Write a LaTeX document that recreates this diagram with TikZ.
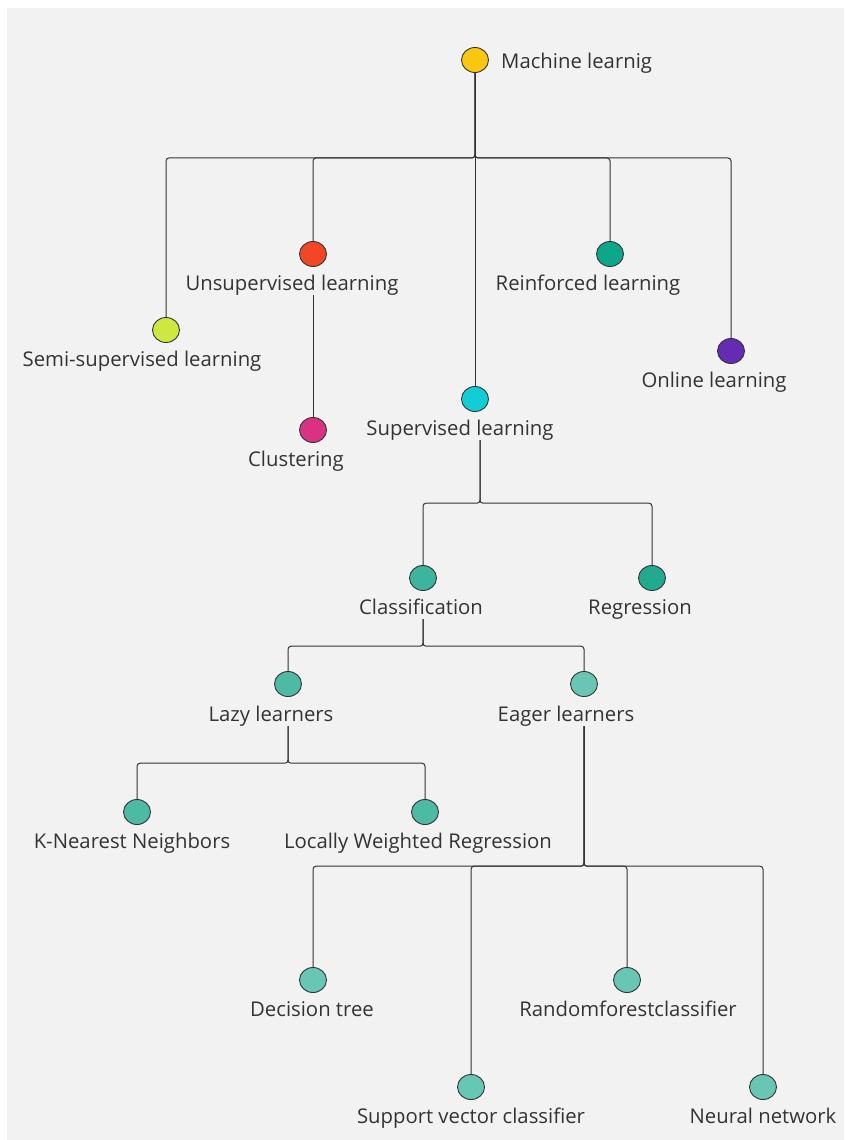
\documentclass[tikz,border=0pt]{standalone}
\usepackage{fontspec}
\setmainfont{Open Sans}
\usetikzlibrary{positioning, shapes.geometric}

\definecolor{bggray}{HTML}{F2F2F2}
\definecolor{linegray}{HTML}{333333}
\definecolor{textgray}{HTML}{333333}
\definecolor{mlyellow}{HTML}{FAC710}
\definecolor{semilime}{HTML}{CEE741}
\definecolor{unsupred}{HTML}{F24726}
\definecolor{reinteal}{HTML}{0CA789}
\definecolor{onlviolet}{HTML}{652CB3}
\definecolor{supcyan}{HTML}{12CDD4}
\definecolor{clusmag}{HTML}{DA3283}
\definecolor{classgreen}{HTML}{3DB49C}
\definecolor{reggreen}{HTML}{22AA8E}
\definecolor{lazygreen}{HTML}{4DBAA4}
\definecolor{eagergreen}{HTML}{6AC6B4}
\definecolor{leafgreen}{HTML}{67C6B4}

\begin{document}
\begin{tikzpicture}[x=1pt, y=-1pt,
        dot/.style={ellipse, draw=linegray, line width=0.9pt, minimum width=27pt, minimum height=25pt, inner sep=0pt},
        lbl/.style={anchor=base, text=textgray, font=\fontsize{20.3}{24}\selectfont, inner sep=0pt, text depth=5pt},
        link/.style={draw=linegray, line width=1pt, rounded corners=3pt}]
    \useasboundingbox (0,0) rectangle (844,1140);
    \fill[bggray] (7,8) rectangle (844,1140);

    % circles
    \node[dot, fill=mlyellow] (ml) at (475,60) {};
    \node[dot, fill=semilime] (semi) at (166,330) {};
    \node[dot, fill=unsupred] (unsup) at (313,254) {};
    \node[dot, fill=supcyan] (sup) at (475,399) {};
    \node[dot, fill=reinteal] (rein) at (610,254) {};
    \node[dot, fill=onlviolet] (onl) at (731,351) {};
    \node[dot, fill=clusmag] (clus) at (313,430) {};
    \node[dot, fill=classgreen] (class) at (423,578) {};
    \node[dot, fill=reggreen] (reg) at (652,578) {};
    \node[dot, fill=lazygreen] (lazy) at (288,684) {};
    \node[dot, fill=eagergreen] (eager) at (584,684) {};
    \node[dot, fill=lazygreen] (knn) at (137,812) {};
    \node[dot, fill=lazygreen] (lwr) at (425,812) {};
    \node[dot, fill=leafgreen] (dt) at (313,980) {};
    \node[dot, fill=leafgreen] (rfc) at (627,980) {};
    \node[dot, fill=leafgreen] (svc) at (471,1087) {};
    \node[dot, fill=leafgreen] (nn) at (763,1087) {};

    % labels
    \node[lbl, anchor=base west] (mlT) at (501,68) {Machine learnig};
    \node[lbl] (semiT) at (142,366) {Semi-supervised learning};
    \node[lbl] (unsupT) at (292,290) {Unsupervised learning};
    \node[lbl] (reinT) at (588,290) {Reinforced learning};
    \node[lbl] (onlT) at (714,387) {Online learning};
    \node[lbl] (supT) at (460,435) {Supervised learning};
    \node[lbl] (clusT) at (296,466) {Clustering};
    \node[lbl] (classT) at (421,614) {Classification};
    \node[lbl] (regT) at (640,614) {Regression};
    \node[lbl] (lazyT) at (271,721) {Lazy learners};
    \node[lbl] (eagerT) at (566,721) {Eager learners};
    \node[lbl] (knnT) at (132,848) {K-Nearest Neighbors};
    \node[lbl] (lwrT) at (418,848) {Locally Weighted Regression};
    \node[lbl] (dtT) at (312,1016) {Decision tree};
    \node[lbl] (rfcT) at (628,1016) {Randomforestclassifier};
    \node[lbl] (svcT) at (471,1123) {Support vector classifier};
    \node[lbl] (nnT) at (763,1123) {Neural network};

    % connectors
    \draw[link] (ml.south) -- ++(0,85) -| (semi.north);
    \draw[link] (ml.south) -- ++(0,85) -| (unsup.north);
    \draw[link] (ml.south) -- (sup.north);
    \draw[link] (ml.south) -- ++(0,85) -| (rein.north);
    \draw[link] (ml.south) -- ++(0,85) -| (onl.north);
    \draw[link] (unsupT.south -| unsup) -- (clus.north);
    \draw[link] ([xshift=20pt]supT.south) -- ++(0,63) -| (class.north);
    \draw[link] ([xshift=20pt]supT.south) -- ++(0,63) -| (reg.north);
    \draw[link] (classT.south -| class) -- ++(0,27) -| (lazy.north);
    \draw[link] (classT.south -| class) -- ++(0,27) -| (eager.north);
    \draw[link] (lazyT.south -| lazy) -- ++(0,37) -| (knn.north);
    \draw[link] (lazyT.south -| lazy) -- ++(0,37) -| (lwr.north);
    \foreach \leaf in {dt, svc, rfc, nn}
        \draw[link] (eagerT.south -| eager) -- ++(0,140) -| (\leaf.north);
\end{tikzpicture}
\end{document}
